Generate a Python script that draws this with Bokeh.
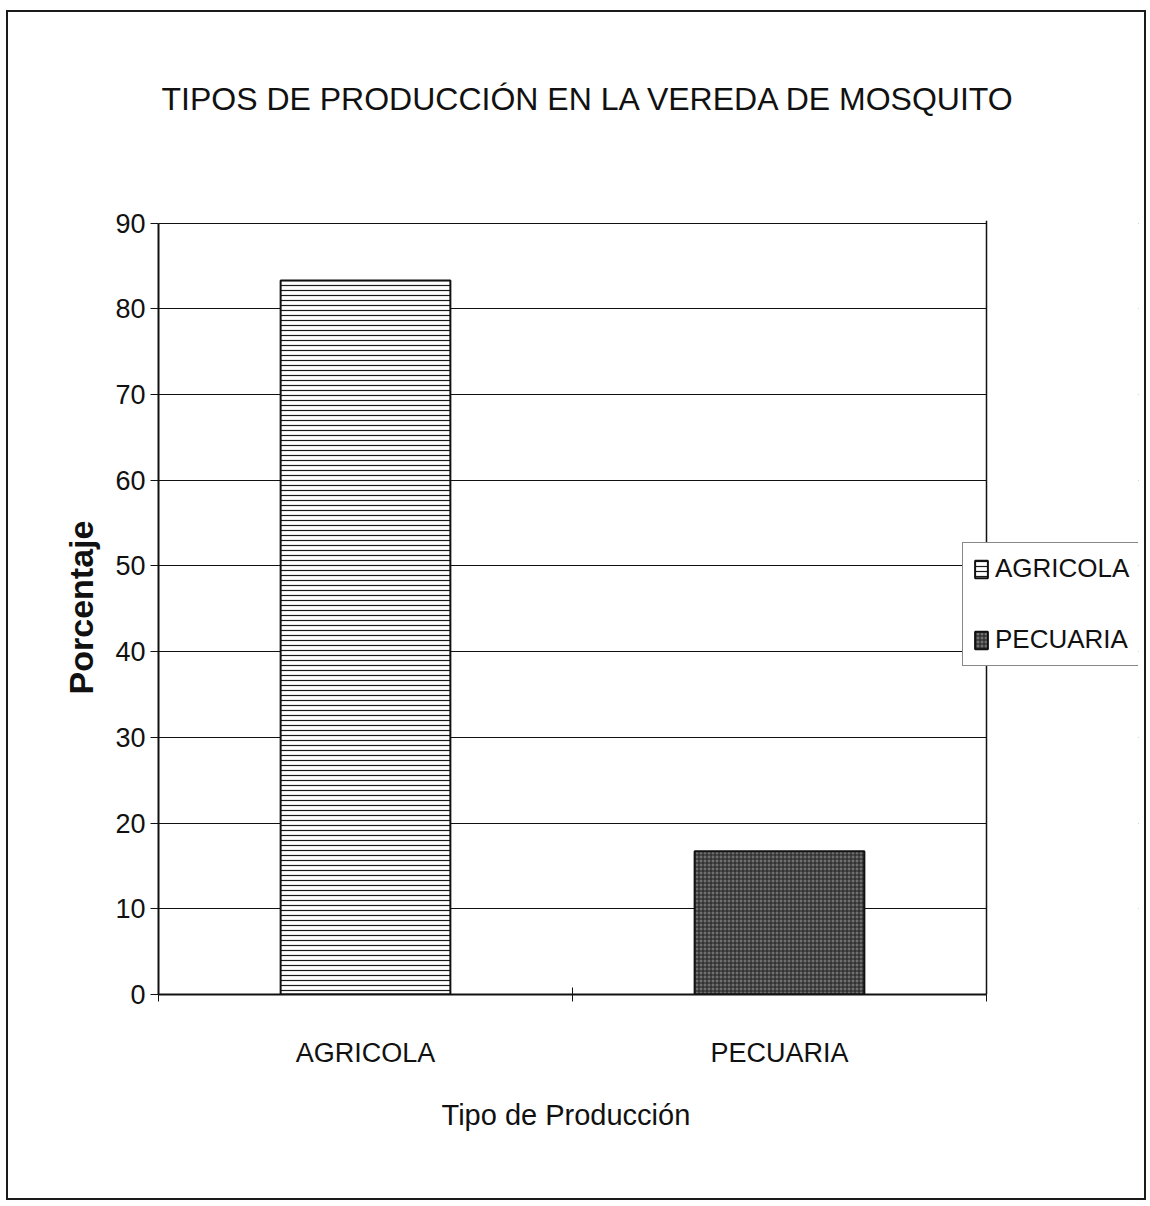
from bokeh.plotting import figure
from bokeh.models import Range1d, FixedTicker, Legend, LegendItem, Title, BoxAnnotation, Span
from bokeh.embed import file_html
from bokeh.resources import INLINE

categories = ["AGRICOLA", "PECUARIA"]
percentages = [83.3, 16.7]
y_ticks = [0, 10, 20, 30, 40, 50, 60, 70, 80, 90]

FONT = "Liberation Sans"
INK = "#111111"

N = len(categories)
# the frame is widened to the right so the legend can straddle the plot edge;
# the category area spans 828 px of a 980 px frame
FRAME_W = 980
X_END = N * FRAME_W / 828
Y_MAX = y_ticks[-1]
Y_PAD = 0.3  # keeps the top grid line from being clipped

p = figure(frame_width=FRAME_W, frame_height=774, output_backend="svg", toolbar_location=None,
           x_range=Range1d(0, X_END), y_range=Range1d(0, Y_MAX + Y_PAD),
           min_border_left=150, min_border_right=6, min_border_top=208, min_border_bottom=204,
           background_fill_color="white", border_fill_color="white")
p.styles = {"border": "2px solid #1a1a1a", "margin-left": "6px", "margin-top": "10px"}
p.title = None

spacer = Title(text=" ", text_font_size="80px", text_font=FONT)
p.add_layout(spacer, "above")
main_title = Title(text="TIPOS DE PRODUCCIÓN EN LA VEREDA DE   MOSQUITO", align="left",
                   text_font=FONT, text_font_size="32px", text_font_style="normal",
                   text_color=INK, standoff=6, offset=3)
p.add_layout(main_title, "above")

styles = [
    dict(fill_color="white", hatch_pattern="horizontal_line", hatch_color="#1a1a1a",
         hatch_scale=5, hatch_weight=1.2),
    dict(fill_color="#707070", hatch_pattern="cross", hatch_color="#1e1e1e",
         hatch_scale=4, hatch_weight=1.0),
]

items = []
for i, (cat, val) in enumerate(zip(categories, percentages)):
    r = p.vbar(x=[i + 0.5], top=[val], width=0.41, bottom=0,
               line_color=INK, line_width=2, **styles[i])
    items.append(LegendItem(label=cat, renderers=[r]))

# axes
p.yaxis.bounds = (0, Y_MAX)
p.yaxis.ticker = FixedTicker(ticks=y_ticks)
p.yaxis.axis_label = "Porcentaje"
p.yaxis.axis_label_text_font = FONT
p.yaxis.axis_label_text_font_style = "bold"
p.yaxis.axis_label_text_font_size = "34px"
p.yaxis.axis_label_text_color = INK
p.yaxis.axis_label_standoff = 12
p.yaxis.major_label_text_font = FONT
p.yaxis.major_label_text_font_size = "27px"
p.yaxis.major_label_standoff = 5
p.yaxis.major_tick_out = 8
p.yaxis.major_tick_in = 0
p.yaxis.minor_tick_line_color = None
p.yaxis.axis_line_width = 2
p.yaxis.axis_line_color = INK
p.yaxis.major_tick_line_color = INK
p.yaxis.major_label_text_color = INK

p.xaxis.bounds = (0, N)
p.xaxis.ticker = FixedTicker(ticks=[i + 0.5 for i in range(N)],
                             minor_ticks=list(range(N + 1)))
p.xaxis.major_label_overrides = {i + 0.5: c for i, c in enumerate(categories)}
p.xaxis.major_tick_line_color = None
p.xaxis.major_tick_out = 0
p.xaxis.major_tick_in = 0
p.xaxis.minor_tick_in = 7
p.xaxis.minor_tick_out = 7
p.xaxis.minor_tick_line_color = INK
p.xaxis.major_label_standoff = 36
p.xaxis.major_label_text_font = FONT
p.xaxis.major_label_text_font_size = "27px"
p.xaxis.major_label_text_color = INK
p.xaxis.axis_line_width = 2
p.xaxis.axis_line_color = INK

# x axis title, centred under the category area (not the widened frame)
x_title = Title(text="Tipo de Producción", align="left", text_font=FONT,
                text_font_size="29px", text_font_style="normal", text_color=INK,
                standoff=52, offset=283)
p.add_layout(x_title, "below")

p.xgrid.grid_line_color = None
p.ygrid.ticker = FixedTicker(ticks=y_ticks)
p.ygrid.grid_line_color = INK
p.ygrid.grid_line_width = 1.2

p.outline_line_color = None

# blank out the area right of the plot area and draw its right edge
p.add_layout(BoxAnnotation(left=N, fill_color="white", fill_alpha=1.0, line_color=None))
p.add_layout(Span(location=N, dimension="height", line_color=INK, line_width=1.5))

legend = Legend(items=items, location=(804, 328), orientation="vertical",
                label_text_font=FONT, label_text_font_size="26px", label_text_color=INK,
                glyph_width=16, glyph_height=22, label_height=30, spacing=40,
                padding=10, label_standoff=6, margin=0,
                border_line_color=INK, border_line_width=1.5,
                background_fill_color="white", background_fill_alpha=1.0)
p.add_layout(legend, "center")

open("out.html", "w").write(file_html(p, INLINE))
